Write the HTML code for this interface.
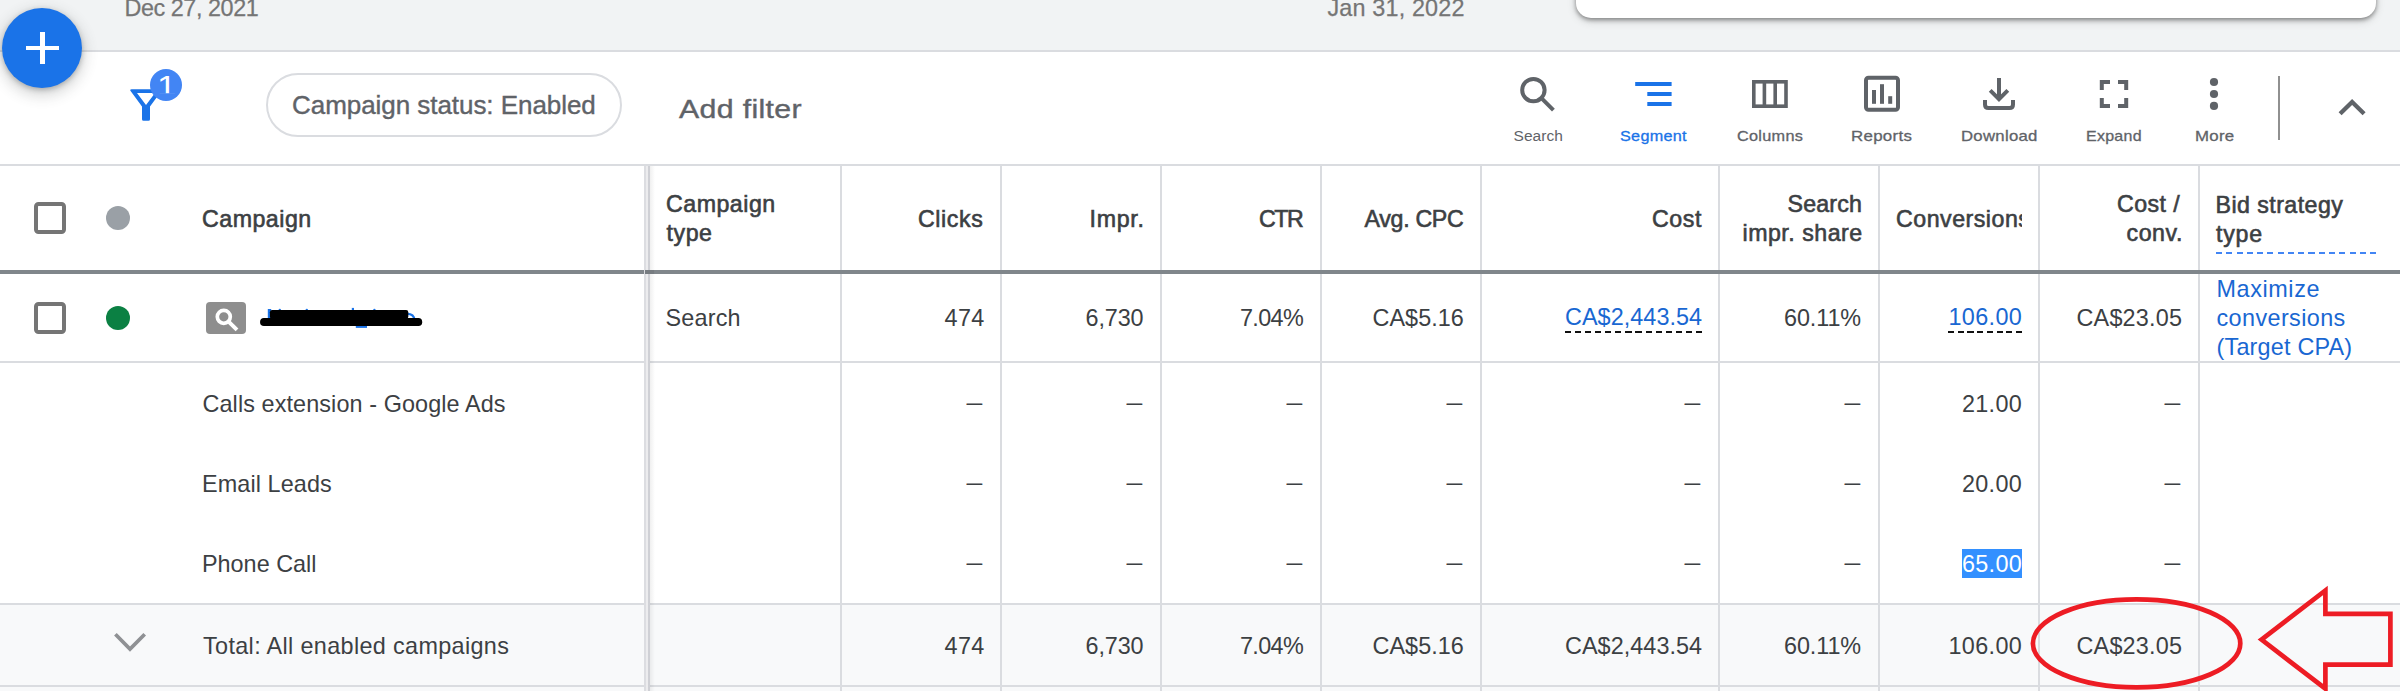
<!DOCTYPE html>
<html lang="en">
<head>
<meta charset="utf-8">
<title>Campaigns</title>
<style>
*{box-sizing:border-box;margin:0;padding:0}
html,body{width:2400px;height:691px;overflow:hidden;background:#fff}
body{position:relative;font-family:"Liberation Sans",Arial,sans-serif;font-size:23.4px;color:#3c4043;line-height:29px}
/* top band */
.topband{position:absolute;left:0;top:0;width:2400px;height:50px;background:#f1f3f4}
.topline{position:absolute;left:0;top:50px;width:2400px;height:2px;background:#dadce0}
.card{position:absolute;left:1576px;top:-20px;width:800px;height:38px;background:#fff;border-radius:15px;box-shadow:0 2px 4px rgba(0,0,0,.38),0 3px 10px rgba(0,0,0,.16)}
.fab{position:absolute;left:2px;top:8px;width:80px;height:80px;border-radius:50%;background:#1a73e8;box-shadow:0 2px 5px rgba(60,64,67,.32),0 5px 14px 3px rgba(60,64,67,.20);z-index:5}
.fab i{position:absolute;background:#fff}
.fab i.ph{left:23.5px;top:37.7px;width:33.2px;height:4.7px}
.fab i.pv{left:37.6px;top:23.8px;width:5px;height:32.4px}
/* toolbar */
.chip{position:absolute;left:266px;top:73px;width:356px;height:64px;border:2px solid #dadce0;border-radius:32px}
.vsep{position:absolute;left:2278px;top:76px;width:2px;height:64px;background:#909090}
/* table grid */
.hl{position:absolute;left:0;width:2400px;height:2px;background:#dadce0}
.vl{position:absolute;top:166px;width:2px;height:525px;background:#dadce0}
.thick{position:absolute;left:0;top:270px;width:2400px;height:4px;background:#80868b}
.total{position:absolute;left:0;top:605px;width:2400px;height:86px;background:#f8f9fa}
.dash{position:absolute;height:2px;background:repeating-linear-gradient(90deg,#4285f4 0 6.1px,transparent 6.1px 10.27px)}
.du{position:absolute;height:2px;background:repeating-linear-gradient(90deg,#111 0 6.1px,transparent 6.1px 10.07px)}
.du.s{background:repeating-linear-gradient(90deg,#111 0 6.1px,transparent 6.1px 9.7px)}
.selbg{position:absolute;left:1962px;top:549px;width:60px;height:29px;background:#3390ff}
/* text */
.t{position:absolute;white-space:nowrap}
.b{font-size:23.4px;line-height:29px;color:#3c4043}
.h{font-size:23.2px;line-height:29px;color:#3c4043;-webkit-text-stroke:.6px #3c4043}
.lnk{color:#1967d2}
.selt{color:#fff}
.ds{transform:scaleX(.675);transform-origin:100% 50%}
.chipt{font-size:26px;line-height:32px;color:#5f6368;-webkit-text-stroke:.4px #5f6368}
.addft{font-size:26.6px;line-height:32px;color:#5f6368;-webkit-text-stroke:.4px #5f6368;transform-origin:0 50%}
.lbl{font-size:14.4px;line-height:20px;color:#5f6368;-webkit-text-stroke:.3px #5f6368;transform-origin:0 50%}
.lblr{font-size:15.5px;line-height:20px;color:#5f6368}
.lbl.on{color:#1a73e8;-webkit-text-stroke-color:#1a73e8}
.date{font-size:23.4px;line-height:29px;color:#757575;-webkit-text-stroke:.25px #757575}
.bnum{left:157.1px;top:69px;font-size:29px;line-height:34px;color:#fff;z-index:4;clip-path:inset(0 0 9.8px 0);transform:scaleX(1.2);transform-origin:0 50%}
.ov{position:absolute;left:0;top:0;z-index:3;pointer-events:none}
</style>
</head>
<body>
<div class="topband"></div>
<div class="card"></div>
<div class="topline"></div>
<div class="fab"><i class="ph"></i><i class="pv"></i></div>
<div class="chip"></div>
<div class="vsep"></div>
<div class="t bnum">1</div>
<div class="total"></div>
<div class="hl" style="top:164px"></div>
<div class="hl" style="top:361px"></div>
<div class="hl" style="top:603px"></div>
<div class="hl" style="top:685px"></div>
<div class="vl" style="left:840px"></div>
<div class="vl" style="left:1000px"></div>
<div class="vl" style="left:1160px"></div>
<div class="vl" style="left:1320px"></div>
<div class="vl" style="left:1480px"></div>
<div class="vl" style="left:1718px"></div>
<div class="vl" style="left:1878px"></div>
<div class="vl" style="left:2038px"></div>
<div class="vl" style="left:2198px"></div>
<div class="thick"></div>
<div class="dash" style="left:2216px;top:252px;width:160.2px"></div>
<div class="du" style="left:1565.2px;top:331px;width:137px"></div>
<div class="du s" style="left:1948px;top:331px;width:74px"></div>
<div class="selbg"></div>

<!-- text -->
<div id="h_campaign" class="t h" style="left:202.00px;top:205px;letter-spacing:0.500px;">Campaign</div>
<div id="h_ct1" class="t h" style="left:666.00px;top:190px;letter-spacing:0.500px;">Campaign</div>
<div id="h_ct2" class="t h" style="left:666.50px;top:219px;letter-spacing:0.550px;">type</div>
<div id="h_clicks" class="t h" style="left:918.00px;top:205px;letter-spacing:0.600px;">Clicks</div>
<div id="h_impr" class="t h" style="left:1089.50px;top:205px;letter-spacing:0.700px;">Impr.</div>
<div id="h_ctr" class="t h" style="left:1259.00px;top:205px;letter-spacing:-1.400px;">CTR</div>
<div id="h_cpc" class="t h" style="left:1364.50px;top:205px;letter-spacing:-0.300px;">Avg. CPC</div>
<div id="h_cost" class="t h" style="left:1652.00px;top:205px;letter-spacing:0.550px;">Cost</div>
<div id="h_s1" class="t h" style="left:1787.50px;top:190px;letter-spacing:0.200px;">Search</div>
<div id="h_s2" class="t h" style="left:1742.50px;top:219px;letter-spacing:0.500px;">impr. share</div>
<div id="h_conv" class="t h" style="left:1896.00px;top:205px;letter-spacing:0.500px;width:126px;overflow:hidden;">Conversions</div>
<div id="h_cc1" class="t h" style="left:2117.00px;top:190px;letter-spacing:0.450px;">Cost /</div>
<div id="h_cc2" class="t h" style="left:2126.50px;top:219px;letter-spacing:0.550px;">conv.</div>
<div id="h_b1" class="t h" style="left:2215.50px;top:191px;letter-spacing:0.450px;">Bid strategy</div>
<div id="h_b2" class="t h" style="left:2216.00px;top:220px;letter-spacing:0.750px;">type</div>
<div id="r_type" class="t b" style="left:665.50px;top:304px;letter-spacing:0.200px;">Search</div>
<div id="r_clicks" class="t b" style="left:944.50px;top:304px;letter-spacing:0.400px;">474</div>
<div id="r_impr" class="t b" style="left:1085.50px;top:304px;letter-spacing:-0.100px;">6,730</div>
<div id="r_ctr" class="t b" style="left:1240.00px;top:304px;letter-spacing:-0.650px;">7.04%</div>
<div id="r_cpc" class="t b" style="left:1372.50px;top:304px;letter-spacing:0.050px;">CA$5.16</div>
<div id="r_cost" class="t b lnk" style="left:1565.00px;top:303px;letter-spacing:0.050px;">CA$2,443.54</div>
<div id="r_sis" class="t b" style="left:1784.00px;top:304px;letter-spacing:-0.100px;">60.11%</div>
<div id="r_conv" class="t b lnk" style="left:1948.50px;top:303px;letter-spacing:0.350px;">106.00</div>
<div id="r_cpa" class="t b" style="left:2076.50px;top:304px;letter-spacing:0.200px;">CA$23.05</div>
<div id="r_b1" class="t b lnk" style="left:2216.50px;top:275px;letter-spacing:0.600px;">Maximize</div>
<div id="r_b2" class="t b lnk" style="left:2216.50px;top:304px;letter-spacing:0.400px;">conversions</div>
<div id="r_b3" class="t b lnk" style="left:2216.50px;top:333px;letter-spacing:0.200px;">(Target CPA)</div>
<div id="s1_name" class="t b" style="left:202.50px;top:390px;letter-spacing:0.100px;">Calls extension - Google Ads</div>
<div id="s1_val" class="t b" style="left:1962.00px;top:390px;letter-spacing:0.300px;">21.00</div>
<div id="s2_name" class="t b" style="left:202.00px;top:470px;letter-spacing:0.100px;">Email Leads</div>
<div id="s2_val" class="t b" style="left:1962.00px;top:470px;letter-spacing:0.300px;">20.00</div>
<div id="s3_name" class="t b" style="left:202.00px;top:550px;">Phone Call</div>
<div id="s3_val" class="t b selt" style="left:1962.00px;top:550px;letter-spacing:0.300px;">65.00</div>
<div id="t_name" class="t b" style="left:203.00px;top:632px;letter-spacing:0.350px;">Total: All enabled campaigns</div>
<div id="t_clicks" class="t b" style="left:944.50px;top:632px;letter-spacing:0.400px;">474</div>
<div id="t_impr" class="t b" style="left:1085.50px;top:632px;letter-spacing:-0.100px;">6,730</div>
<div id="t_ctr" class="t b" style="left:1240.00px;top:632px;letter-spacing:-0.650px;">7.04%</div>
<div id="t_cpc" class="t b" style="left:1372.50px;top:632px;letter-spacing:0.050px;">CA$5.16</div>
<div id="t_cost" class="t b" style="left:1565.00px;top:632px;letter-spacing:0.050px;">CA$2,443.54</div>
<div id="t_sis" class="t b" style="left:1784.00px;top:632px;letter-spacing:-0.100px;">60.11%</div>
<div id="t_conv" class="t b" style="left:1948.50px;top:632px;letter-spacing:0.350px;">106.00</div>
<div id="t_cpa" class="t b" style="left:2076.50px;top:632px;letter-spacing:0.200px;">CA$23.05</div>
<div id="chip" class="t chipt" style="left:292.00px;top:89px;letter-spacing:-0.050px;">Campaign status: Enabled</div>
<div id="addf" class="t addft" style="left:678.50px;top:93px;letter-spacing:0.300px;transform:scaleX(1.139);">Add filter</div>
<div id="l_search" class="t lblr" style="left:1513.50px;top:126px;letter-spacing:0.050px;">Search</div>
<div id="l_segment" class="t lbl on" style="left:1620.00px;top:126px;letter-spacing:0.250px;transform:scaleX(1.126);">Segment</div>
<div id="l_columns" class="t lbl" style="left:1737.00px;top:126px;letter-spacing:0.250px;transform:scaleX(1.131);">Columns</div>
<div id="l_reports" class="t lbl" style="left:1851.00px;top:126px;letter-spacing:0.250px;transform:scaleX(1.173);">Reports</div>
<div id="l_download" class="t lbl" style="left:1960.50px;top:126px;letter-spacing:0.250px;transform:scaleX(1.162);">Download</div>
<div id="l_expand" class="t lbl" style="left:2086.00px;top:126px;letter-spacing:0.250px;transform:scaleX(1.11);">Expand</div>
<div id="l_more" class="t lbl" style="left:2194.50px;top:126px;letter-spacing:0.250px;transform:scaleX(1.17);">More</div>
<div id="d_dec" class="t date" style="left:124.50px;top:-6px;letter-spacing:-0.450px;">Dec 27, 2021</div>
<div id="d_jan" class="t date" style="left:1327.50px;top:-6px;letter-spacing:0.150px;">Jan 31, 2022</div>
<div class="t b ds" style="left:958.8px;top:388px">—</div>
<div class="t b ds" style="left:1118.8px;top:388px">—</div>
<div class="t b ds" style="left:1278.8px;top:388px">—</div>
<div class="t b ds" style="left:1438.8px;top:388px">—</div>
<div class="t b ds" style="left:1676.8px;top:388px">—</div>
<div class="t b ds" style="left:1836.8px;top:388px">—</div>
<div class="t b ds" style="left:2156.8px;top:388px">—</div>
<div class="t b ds" style="left:958.8px;top:468px">—</div>
<div class="t b ds" style="left:1118.8px;top:468px">—</div>
<div class="t b ds" style="left:1278.8px;top:468px">—</div>
<div class="t b ds" style="left:1438.8px;top:468px">—</div>
<div class="t b ds" style="left:1676.8px;top:468px">—</div>
<div class="t b ds" style="left:1836.8px;top:468px">—</div>
<div class="t b ds" style="left:2156.8px;top:468px">—</div>
<div class="t b ds" style="left:958.8px;top:548px">—</div>
<div class="t b ds" style="left:1118.8px;top:548px">—</div>
<div class="t b ds" style="left:1278.8px;top:548px">—</div>
<div class="t b ds" style="left:1438.8px;top:548px">—</div>
<div class="t b ds" style="left:1676.8px;top:548px">—</div>
<div class="t b ds" style="left:1836.8px;top:548px">—</div>
<div class="t b ds" style="left:2156.8px;top:548px">—</div>
<!-- icons & annotations overlay -->
<svg class="ov" width="2400" height="691" viewBox="0 0 2400 691">
  <!-- frozen column separator -->
  <g>
    <rect x="644" y="166" width="2" height="525" fill="#dcdde1"/>
    <rect x="646" y="166" width="2" height="525" fill="#ececee"/>
    <rect x="648" y="166" width="2" height="525" fill="#cfd0d5"/>
    <rect x="650" y="166" width="5" height="525" fill="url(#sh)"/>
    <rect x="645" y="270" width="9" height="4" fill="#777c81"/>
  </g>
  <defs>
    <linearGradient id="sh" x1="0" x2="1" y1="0" y2="0"><stop offset="0" stop-color="#000" stop-opacity=".06"/><stop offset="1" stop-color="#000" stop-opacity="0"/></linearGradient>
  </defs>
  <!-- filter funnel + badge -->
  <g>
    <path d="M131.5 89.2 H160.5 Q162.6 89.2 161.4 91 L150 106.5 V119.3 Q150 120.8 148.5 120.8 H143.5 Q142 120.8 142 119.3 V106.5 L130.6 91 Q129.4 89.2 131.5 89.2 Z M137 93 L146 104.9 L155 93 Z" fill="#1a73e8" fill-rule="evenodd"/>
    <circle cx="166" cy="85" r="16" fill="#4285f4"/>
  </g>
  <!-- search -->
  <g fill="none" stroke="#5f6368" stroke-width="4">
    <circle cx="1533.4" cy="90.1" r="11.2"/>
    <path d="M1541.4 98.1 L1553.4 110.1"/>
  </g>
  <!-- segment -->
  <g fill="#1a73e8">
    <rect x="1635.2" y="82" width="36.4" height="4"/>
    <rect x="1647.3" y="92" width="24.3" height="4"/>
    <rect x="1647.3" y="102" width="24.3" height="4"/>
  </g>
  <!-- columns -->
  <g fill="none" stroke="#5f6368" stroke-width="3.6">
    <rect x="1753.8" y="81.8" width="32.2" height="24.4"/>
    <path d="M1764.4 81.8 V106.2 M1775.2 81.8 V106.2"/>
  </g>
  <!-- reports -->
  <g>
    <rect x="1866" y="77.8" width="32" height="32" rx="2.5" fill="none" stroke="#5f6368" stroke-width="4"/>
    <rect x="1872" y="90" width="4" height="13.8" fill="#5f6368"/>
    <rect x="1880" y="84.2" width="4" height="19.6" fill="#5f6368"/>
    <rect x="1888.2" y="96.2" width="4" height="7.6" fill="#5f6368"/>
  </g>
  <!-- download -->
  <g fill="none" stroke="#5f6368" stroke-width="4">
    <path d="M1999 78 V98"/>
    <path d="M1990.2 90.4 L1999 99.2 L2007.8 90.4"/>
    <path d="M1985 100 V104.5 Q1985 108 1988.5 108 H2009.5 Q2013 108 2013 104.5 V100"/>
  </g>
  <!-- expand -->
  <g fill="none" stroke="#5f6368" stroke-width="4">
    <path d="M2101.8 90 V82 H2110"/>
    <path d="M2118 82 H2126.2 V90"/>
    <path d="M2126.2 98 V106 H2118"/>
    <path d="M2110 106 H2101.8 V98"/>
  </g>
  <!-- more -->
  <g fill="#5f6368">
    <circle cx="2214" cy="82" r="4.1"/><circle cx="2214" cy="94" r="4.1"/><circle cx="2214" cy="105.9" r="4.1"/>
  </g>
  <!-- collapse chevron -->
  <path d="M2340.1 113.7 L2352.1 102 L2364.1 113.7" fill="none" stroke="#5f6368" stroke-width="4.3"/>
  <!-- checkboxes -->
  <rect x="36" y="204" width="28" height="28" rx="2.5" fill="#fff" stroke="#757575" stroke-width="4"/>
  <rect x="36" y="304" width="28" height="28" rx="2.5" fill="#fff" stroke="#757575" stroke-width="4"/>
  <circle cx="118" cy="218" r="12" fill="#9aa0a6"/>
  <circle cx="118" cy="318" r="12" fill="#0b8043"/>
  <!-- search campaign type badge -->
  <rect x="206" y="302" width="40" height="32" rx="4" fill="#8e8e8e"/>
  <circle cx="223.8" cy="316.8" r="6.5" fill="none" stroke="#fff" stroke-width="3.7"/>
  <path d="M228.6 321.6 L237 329.8" stroke="#fff" stroke-width="3.9" fill="none"/>
  <!-- redaction scribble over campaign name -->
  <g>
    <g fill="#1a73e8">
      <rect x="267.8" y="309" width="3.4" height="10"/>
      <circle cx="279.8" cy="310" r="1.2"/><circle cx="306.8" cy="310" r="1.2"/><circle cx="374.4" cy="310" r="1.2"/>
      <rect x="351.8" y="307.9" width="2.2" height="3"/>
      <rect x="355.8" y="325" width="11.2" height="2.9"/>
    </g>
    <path d="M406.5 313.9 Q414 313.6 414.4 320" fill="none" stroke="#1a73e8" stroke-width="2.2"/>
    <rect x="269.9" y="310" width="138.4" height="9" rx="2.2" fill="#000"/>
    <rect x="260.1" y="318" width="162.1" height="8.1" rx="3.8" fill="#000"/>
  </g>
  <!-- total row chevron -->
  <path d="M115.4 634.2 L130 649.1 L144.7 634.3" fill="none" stroke="#8f9194" stroke-width="3.7"/>
  <!-- red annotation -->
  <ellipse cx="2136.6" cy="643.4" rx="103.7" ry="44" fill="none" stroke="#ed1c24" stroke-width="4.7"/>
  <path d="M2261.5 639.6 L2325.4 590.5 V613.9 H2390.4 V664.7 H2325.4 V688.7 Z" fill="none" stroke="#ed1c24" stroke-width="4.7" stroke-linejoin="miter" stroke-miterlimit="10"/>
</svg>

</body>
</html>
